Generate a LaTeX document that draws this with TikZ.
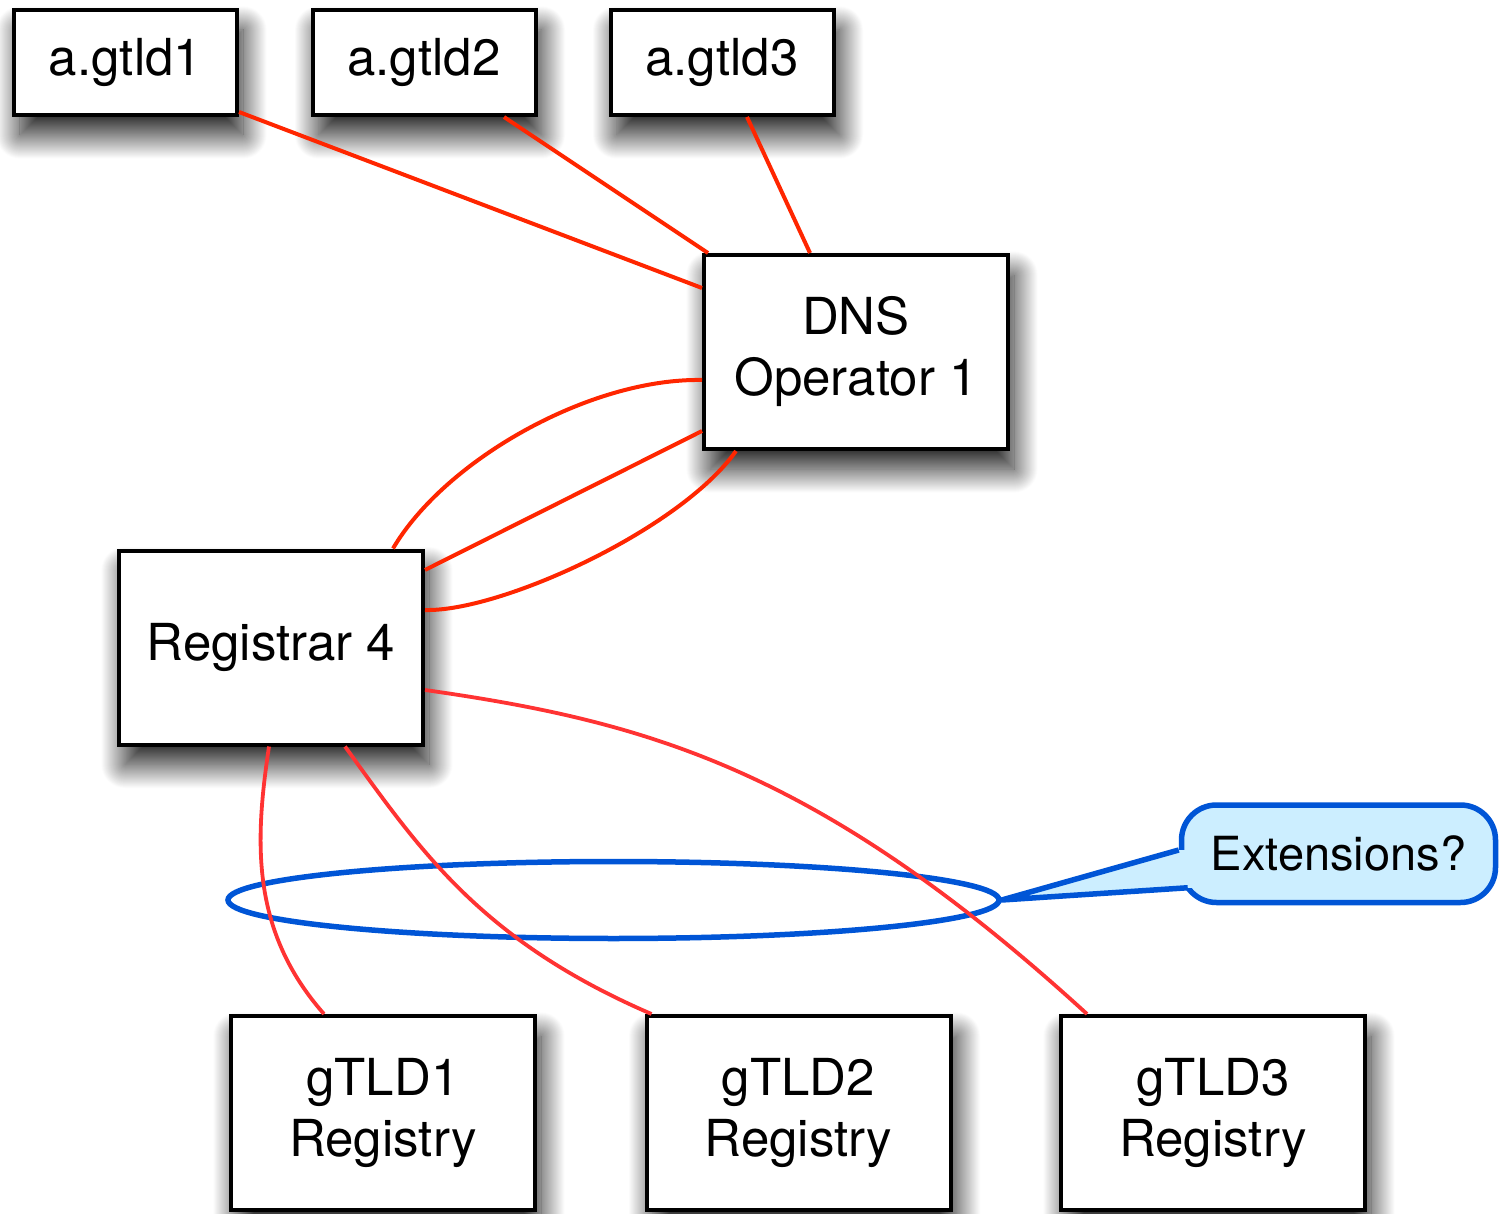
\documentclass[tikz,border=0pt]{standalone}
\usepackage{fontspec}
\setmainfont{TeX Gyre Heros}
\usetikzlibrary{shapes.geometric,shadows.blur,calc}
\definecolor{redA}{RGB}{255,38,0}
\definecolor{redB}{RGB}{255,51,51}
\definecolor{blueE}{RGB}{0,85,214}
\definecolor{fillE}{RGB}{204,238,255}
\tikzset{
  boxstyle/.style={draw=black, line width=4pt, fill=white, inner sep=0pt, align=center,
    font=\fontsize{51}{61}\selectfont,
    blur shadow={shadow xshift=6pt, shadow yshift=-20pt, shadow blur radius=24pt,
      shadow blur steps=48, shadow opacity=90}},
  smallbox/.style={boxstyle, minimum width=223pt, minimum height=105pt},
  bigbox/.style={boxstyle, minimum width=304pt, minimum height=194pt},
  linkA/.style={draw=redA, line width=4pt},
  linkB/.style={draw=redB, line width=3.8pt},
  ringstyle/.style={draw=blueE, line width=5.5pt, ellipse, inner sep=0pt},
  calloutstyle/.style={draw=blueE, line width=5.5pt, fill=fillE, rounded corners=35pt,
    inner sep=0pt, minimum width=314pt, minimum height=97.5pt, font=\fontsize{47}{56}\selectfont}
}
\begin{document}
\begin{tikzpicture}[x=1pt,y=-1pt]
\useasboundingbox (0,0) rectangle (1500,1214);
% nodes
\node[smallbox] (a1) at (125.5,62.5) {a.gtld1};
\node[smallbox] (a2) at (424,62.5) {a.gtld2};
\node[smallbox] (a3) at (722,62.5) {a.gtld3};
\node[bigbox] (dns) at (856,352) {DNS\\Operator 1};
\node[bigbox] (reg) at (271,647.5) {Registrar 4};
\node[bigbox] (g1) at (383,1113) {gTLD1\\Registry};
\node[bigbox] (g2) at (798.5,1113) {gTLD2\\Registry};
\node[bigbox] (g3) at (1213,1113) {gTLD3\\Registry};
% extensions ring and callout
\node[ringstyle, minimum width=771pt, minimum height=77pt] (ring) at (613.5,900) {};
\node[calloutstyle] (ext) at (1338.5,853.75) {Extensions?};
\coordinate (pu) at ([yshift=3.75pt]ext.west);
\coordinate (pl) at ([xshift=9pt,yshift=-34pt]ext.west);
\fill[fillE] (ring.east) -- ([xshift=-3pt]pu) -- ([xshift=20pt]pu) -- ([xshift=20pt]pl) -- (pl) -- cycle;
\draw[draw=blueE, line width=5.5pt, line join=round] (pu) -- (ring.east) -- (pl);
% top links
\draw[linkA] ([yshift=5pt]a1.south east) -- ([yshift=-35pt]dns.north west);
\draw[linkA] ([xshift=80pt]a2.south) -- ([xshift=6pt]dns.north west);
\draw[linkA] ([xshift=25pt]a3.south) -- ([xshift=-46pt]dns.north);
% registrar - dns links
\draw[linkA] ([xshift=122pt]reg.north) .. controls (445,460) and (590,378) .. ([yshift=-28pt]dns.west);
\draw[linkA] ([yshift=77.5pt]reg.east) -- ([yshift=-79pt]dns.west);
\draw[linkA] ([yshift=37.5pt]reg.east) .. controls (500,612) and (680,530) .. ([xshift=34pt]dns.south west);
% registrar - registry links
\draw[linkB] ([yshift=-42.5pt]reg.east) .. controls (650,722) and (820,770) .. ([xshift=-126pt]g3.north);
\draw[linkB] ([xshift=-2pt]reg.south) .. controls (255,840) and (250,930) .. ([xshift=-59pt]g1.north);
\draw[linkB] ([xshift=74pt]reg.south) .. controls (420,850) and (480,940) .. ([xshift=-147pt]g2.north);
\end{tikzpicture}
\end{document}
